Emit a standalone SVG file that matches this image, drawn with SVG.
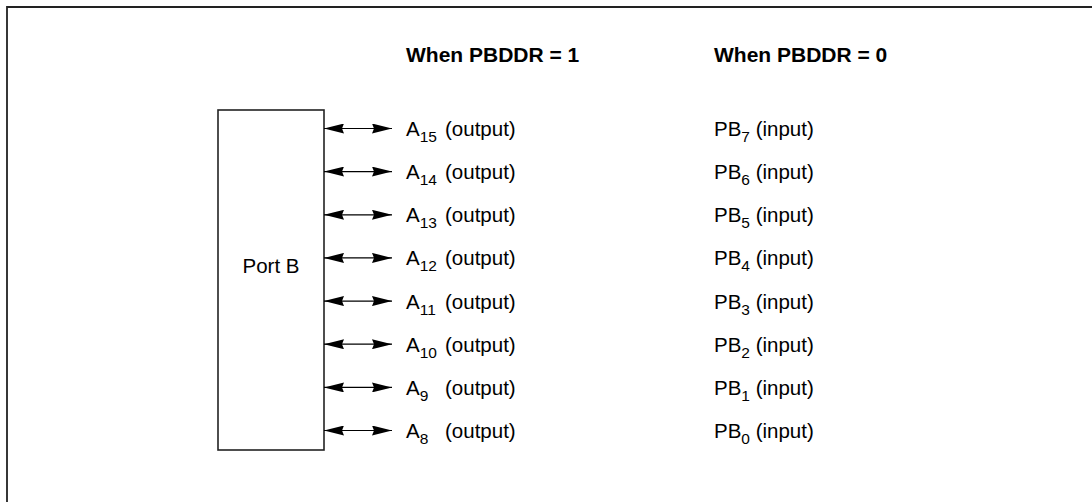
<svg xmlns="http://www.w3.org/2000/svg" width="1092" height="502" viewBox="0 0 1092 502">
<style>
text{font-family:"Liberation Sans",Arial,sans-serif;font-size:20.5px;fill:#000}
.h{font-weight:bold;font-size:21px}
.s{font-size:15.5px}
.ln{stroke:#000;stroke-width:1.2;fill:none}
</style>
<defs>
<marker id="ah" viewBox="0 0 20 10" refX="20" refY="5" markerWidth="20" markerHeight="10" markerUnits="userSpaceOnUse" orient="auto-start-reverse">
<path d="M0,0 L20,5 L0,10 L2,5 Z" fill="#000"/>
</marker>
</defs>
<rect width="1092" height="502" fill="#fff"/>
<g id="frame">
<path d="M7,502 V7 H1092" stroke="#222" stroke-width="1.8" fill="none"/>
</g>
<g id="headers">
<text class="h" x="406" y="62">When PBDDR = 1</text>
<text class="h" x="714" y="62">When PBDDR = 0</text>
</g>
<g id="portb">
<rect x="218" y="110" width="106" height="340" fill="#fff" stroke="#222" stroke-width="1.6"/>
<text x="271" y="273" text-anchor="middle">Port B</text>
</g>
<g id="connectors">
<line class="ln" x1="324" y1="128.5" x2="392" y2="128.5" marker-start="url(#ah)" marker-end="url(#ah)"/>
<line class="ln" x1="324" y1="171.6" x2="392" y2="171.6" marker-start="url(#ah)" marker-end="url(#ah)"/>
<line class="ln" x1="324" y1="214.8" x2="392" y2="214.8" marker-start="url(#ah)" marker-end="url(#ah)"/>
<line class="ln" x1="324" y1="257.9" x2="392" y2="257.9" marker-start="url(#ah)" marker-end="url(#ah)"/>
<line class="ln" x1="324" y1="301.1" x2="392" y2="301.1" marker-start="url(#ah)" marker-end="url(#ah)"/>
<line class="ln" x1="324" y1="344.2" x2="392" y2="344.2" marker-start="url(#ah)" marker-end="url(#ah)"/>
<line class="ln" x1="324" y1="387.4" x2="392" y2="387.4" marker-start="url(#ah)" marker-end="url(#ah)"/>
<line class="ln" x1="324" y1="430.5" x2="392" y2="430.5" marker-start="url(#ah)" marker-end="url(#ah)"/>
</g>
<g id="outputs">
<text x="406" y="136">A<tspan class="s" dy="6">15</tspan><tspan x="445" dy="-6">(output)</tspan></text>
<text x="406" y="179.1">A<tspan class="s" dy="6">14</tspan><tspan x="445" dy="-6">(output)</tspan></text>
<text x="406" y="222.3">A<tspan class="s" dy="6">13</tspan><tspan x="445" dy="-6">(output)</tspan></text>
<text x="406" y="265.4">A<tspan class="s" dy="6">12</tspan><tspan x="445" dy="-6">(output)</tspan></text>
<text x="406" y="308.6">A<tspan class="s" dy="6">11</tspan><tspan x="445" dy="-6">(output)</tspan></text>
<text x="406" y="351.7">A<tspan class="s" dy="6">10</tspan><tspan x="445" dy="-6">(output)</tspan></text>
<text x="406" y="394.9">A<tspan class="s" dy="6">9</tspan><tspan x="445" dy="-6">(output)</tspan></text>
<text x="406" y="438">A<tspan class="s" dy="6">8</tspan><tspan x="445" dy="-6">(output)</tspan></text>
</g>
<g id="inputs">
<text x="714" y="136">PB<tspan class="s" dy="6">7</tspan><tspan dy="-6"> (input)</tspan></text>
<text x="714" y="179.1">PB<tspan class="s" dy="6">6</tspan><tspan dy="-6"> (input)</tspan></text>
<text x="714" y="222.3">PB<tspan class="s" dy="6">5</tspan><tspan dy="-6"> (input)</tspan></text>
<text x="714" y="265.4">PB<tspan class="s" dy="6">4</tspan><tspan dy="-6"> (input)</tspan></text>
<text x="714" y="308.6">PB<tspan class="s" dy="6">3</tspan><tspan dy="-6"> (input)</tspan></text>
<text x="714" y="351.7">PB<tspan class="s" dy="6">2</tspan><tspan dy="-6"> (input)</tspan></text>
<text x="714" y="394.9">PB<tspan class="s" dy="6">1</tspan><tspan dy="-6"> (input)</tspan></text>
<text x="714" y="438">PB<tspan class="s" dy="6">0</tspan><tspan dy="-6"> (input)</tspan></text>
</g>
</svg>
